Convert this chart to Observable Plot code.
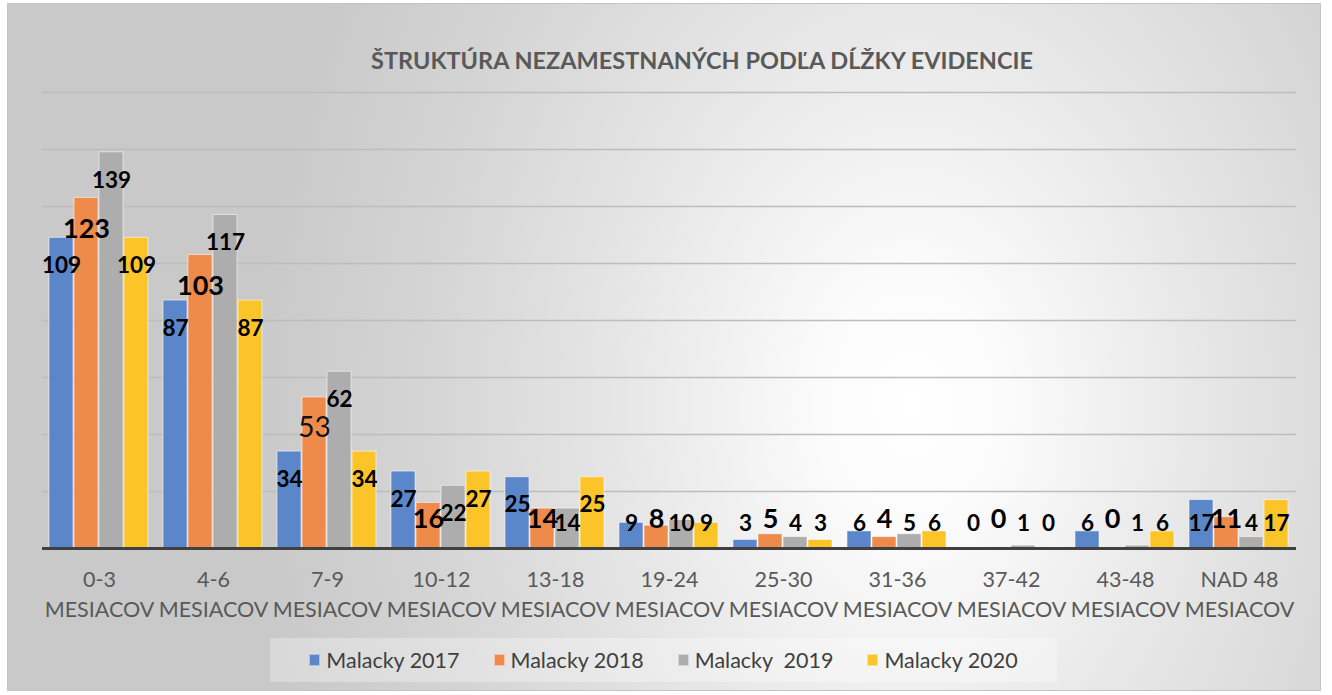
<!DOCTYPE html>
<html>
<head>
<meta charset="utf-8">
<script src="https://cdn.jsdelivr.net/npm/d3@7"></script>
<script src="https://cdn.jsdelivr.net/npm/@observablehq/plot@0.6"></script>
<style>
  html, body { margin: 0; padding: 0; background: #fff; }
  #chart {
    position: absolute; left: 8px; top: 4px; width: 1312px; height: 686px;
    outline: 1px solid #c4c4c4;
    background: radial-gradient(ellipse 660px 900px at 905px 400px, #ffffff 0%, #fbfbfb 14%, #e6e6e6 45%, #d4d4d4 75%, #c9c9c9 100%);
    font-family: Lato, "Noto Sans", sans-serif;
    overflow: hidden;
  }
  #title {
    position: absolute; top: 43px; left: 694px; transform: translateX(-50%);
    white-space: nowrap; font-weight: bold; font-size: 23.5px; line-height: 26px; color: #595959;
  }
  #plot { position: absolute; left: 0; top: 66px; }
  #legend {
    position: absolute; left: 262px; top: 634px; width: 787px; height: 44px;
    background: rgba(255,255,255,0.3);
    display: flex; align-items: center; justify-content: center; gap: 34px;
    font-size: 21.5px; color: #404040;
  }
  .item { display: flex; align-items: center; white-space: pre; }
  .sw { width: 11px; height: 12px; margin-right: 6px; box-sizing: border-box; border: 1px solid rgba(255,255,255,0.5); }
</style>
</head>
<body>
<div id="chart">
  <div id="title"></div>
  <div id="plot"></div>
  <div id="legend"></div>
</div>
<script>
const title = "ŠTRUKTÚRA NEZAMESTNANÝCH PODĽA DĹŽKY EVIDENCIE";
const categories = ["0-3", "4-6", "7-9", "10-12", "13-18", "19-24", "25-30", "31-36", "37-42", "43-48", "NAD 48"];
const unit = "MESIACOV";
const series = ["Malacky 2017", "Malacky 2018", "Malacky  2019", "Malacky 2020"];
const colors = ["#5b86ca", "#ee8b4b", "#adadad", "#fbc52a"];
const v2017 = [109, 87, 34, 27, 25, 9, 3, 6, 0, 6, 17];
const v2018 = [123, 103, 53, 16, 14, 8, 5, 4, 0, 0, 11];
const v2019 = [139, 117, 62, 22, 14, 10, 4, 5, 1, 1, 4];
const v2020 = [109, 87, 34, 27, 25, 9, 3, 6, 0, 6, 17];
const yTicks = [20, 40, 60, 80, 100, 120, 140, 160];

const values = [v2017, v2018, v2019, v2020];
const data = categories.flatMap((c, i) => series.map((s, j) => ({cat: c, series: s, value: values[j][i]})));

document.getElementById("title").textContent = title;

const orange = series[1];
const plain = data.filter(d => d.series !== orange);
const orangeBold = data.filter(d => d.series === orange && d.cat !== "7-9");
const orangeReg = data.filter(d => d.series === orange && d.cat === "7-9");

const chart = Plot.plot({
  width: 1312,
  height: 560,
  marginTop: 22,
  marginBottom: 82,
  marginLeft: 32,
  marginRight: 23,
  style: {background: "transparent", fontFamily: "Lato, 'Noto Sans', sans-serif", overflow: "visible"},
  fx: {domain: categories, padding: 0, label: null},
  x: {domain: series, paddingInner: 0.03, paddingOuter: 0.28, axis: null},
  y: {domain: [0, 160], axis: null},
  color: {domain: series, range: colors},
  marks: [
    Plot.gridY(yTicks, {stroke: "#bdbdbd", strokeOpacity: 1, strokeWidth: 1.5}),
    Plot.barY(data, {fx: "cat", x: "series", y: "value", fill: "series", stroke: "#ffffff", strokeOpacity: 0.55, strokeWidth: 1}),
    Plot.ruleY([0], {stroke: "#404040", strokeWidth: 3}),
    Plot.text(plain, {fx: "cat", x: "series", y: d => Math.max(d.value, 18.6), dy: 28, text: d => String(d.value), fontSize: 22.5, fontWeight: "bold", fill: "#000"}),
    Plot.text(orangeBold, {fx: "cat", x: "series", y: d => Math.max(d.value, 21), dy: 31, text: d => String(d.value), fontSize: 27, fontWeight: "bold", fill: "#000"}),
    Plot.text(orangeReg, {fx: "cat", x: "series", y: d => Math.max(d.value, 21), dy: 31, text: d => String(d.value), fontSize: 28, fontWeight: "normal", fill: "#111"}),
    Plot.axisFx({anchor: "bottom", tickSize: 0, tickPadding: 18, fontSize: 21.5, lineHeight: 1.36, fill: "#595959", label: null, tickFormat: d => `${d}\n${unit}`})
  ]
});
document.getElementById("plot").appendChild(chart);

const legend = document.getElementById("legend");
series.forEach((s, j) => {
  const item = document.createElement("div");
  item.className = "item";
  const sw = document.createElement("span");
  sw.className = "sw";
  sw.style.background = colors[j];
  const t = document.createElement("span");
  t.textContent = s;
  item.appendChild(sw);
  item.appendChild(t);
  legend.appendChild(item);
});
</script>
</body>
</html>
